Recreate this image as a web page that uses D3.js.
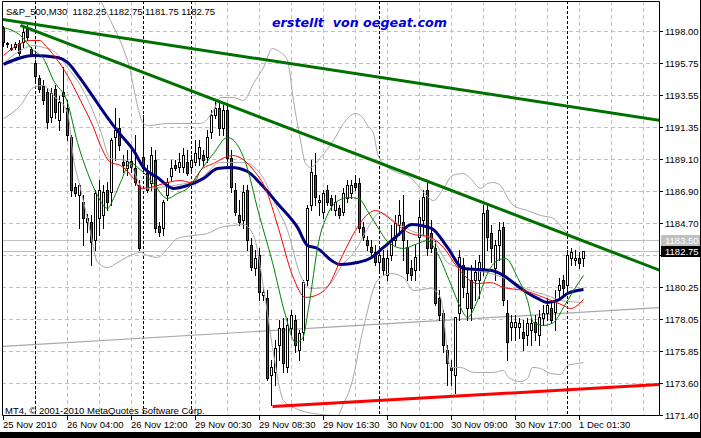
<!DOCTYPE html>
<html><head><meta charset="utf-8">
<script src="https://cdn.jsdelivr.net/npm/d3@7"></script>
<style>
html,body{margin:0;padding:0;background:#fff;}
svg{display:block;}
text{font-family:"Liberation Sans",Arial,sans-serif;}
</style></head><body>
<svg id="c" width="701" height="438"></svg>
<script>
// ---------- DATA ----------
const symbol = "S&P_500,M30";
const barOpen = [1198.21,1197.17,1196.82,1196.89,1197.17,1197.24,1198.14,1196.76,1195.79,1194.75,
1194.19,1193.78,1192.04,1193.98,1191.84,1193.78,1192.67,1190.66,1187.20,1186.64,
1186.16,1184.77,1184.77,1183.52,1185.05,1185.26,1186.99,1186.85,1190.66,1191.28,
1188.93,1188.51,1188.99,1188.51,1187.33,1189.27,1188.16,1187.47,1189.06,1184.49,
1184.36,1186.64,1187.96,1188.72,1188.58,1188.58,1188.93,1188.58,1188.93,1189.20,
1189.41,1189.27,1191.00,1192.18,1192.67,1191.28,1192.53,1189.20,1186.99,1185.26,
1184.91,1186.99,1183.18,1181.58,1182.49,1179.71,1179.51,1174.17,1174.38,1176.25,
1177.43,1174.73,1177.43,1177.98,1175.90,1177.15,1180.75,1185.95,1188.03,1186.16,
1185.46,1186.99,1186.43,1185.60,1185.74,1185.46,1186.43,1186.78,1187.47,1187.47,
1184.43,1183.52,1183.04,1182.69,1182.00,1182.28,1181.10,1182.49,1183.52,1184.56,
1184.77,1183.04,1181.58,1181.45,1183.73,1184.91,1186.99,1184.01,1182.97,1179.51,
1178.47,1175.90,1174.73,1174.17,1178.47,1181.79,1178.81,1180.75,1180.75,1180.75,
1181.58,1185.60,1184.01,1181.58,1183.18,1184.43,1178.47,1177.50,1177.50,1177.50,
1177.15,1176.94,1177.29,1177.84,1176.94,1178.12,1178.47,1178.81,1178.54,1180.06,
1180.75,1180.41,1182.28,1182.14,1182.28,1182.25];
const barHigh = [1198.35,1197.24,1197.10,1197.24,1197.38,1198.21,1198.42,1196.89,1195.99,1194.95,
1194.61,1194.05,1194.05,1194.26,1193.50,1195.51,1193.22,1190.80,1187.47,1187.47,
1186.64,1185.33,1185.26,1186.99,1187.68,1187.33,1187.54,1190.59,1192.67,1191.97,
1189.41,1189.76,1189.76,1190.80,1187.68,1192.18,1188.72,1189.97,1189.76,1184.77,
1186.29,1187.82,1189.06,1189.06,1189.55,1189.90,1189.76,1189.41,1190.45,1190.45,
1189.76,1191.14,1192.53,1193.22,1193.08,1192.88,1192.88,1189.76,1187.47,1186.29,
1187.33,1187.33,1183.66,1182.83,1182.97,1180.20,1180.06,1175.21,1176.60,1177.98,
1178.12,1178.12,1178.67,1178.33,1177.29,1180.75,1185.95,1189.06,1189.55,1186.64,
1186.99,1187.33,1186.64,1186.64,1185.95,1187.13,1187.68,1187.68,1188.03,1187.82,
1184.77,1183.80,1183.52,1183.18,1182.83,1182.83,1182.83,1184.56,1185.26,1186.29,
1186.64,1183.52,1182.14,1183.18,1186.29,1186.99,1187.68,1184.91,1183.52,1180.06,
1178.67,1176.25,1175.21,1176.25,1182.83,1182.28,1181.45,1181.79,1182.14,1182.49,
1185.95,1185.95,1184.56,1183.52,1184.77,1184.77,1179.37,1178.33,1178.33,1178.12,
1177.98,1178.12,1178.12,1178.33,1178.67,1179.02,1179.51,1179.37,1180.06,1180.89,
1181.10,1182.83,1182.97,1182.83,1182.69,1182.75];
const barLow = [1196.96,1196.89,1196.69,1196.76,1196.34,1196.89,1197.38,1196.27,1194.47,1193.78,
1192.94,1191.28,1191.70,1191.97,1191.14,1192.39,1190.45,1186.57,1186.57,1184.36,
1183.18,1184.08,1181.79,1182.83,1183.87,1184.36,1185.60,1185.95,1189.06,1189.76,
1188.23,1188.03,1188.23,1187.33,1182.83,1188.23,1186.85,1186.99,1184.08,1183.80,
1183.87,1186.29,1187.68,1188.37,1188.23,1188.23,1188.03,1188.23,1188.72,1188.72,
1188.72,1188.93,1190.59,1191.97,1190.80,1190.80,1188.72,1186.85,1185.26,1184.56,
1184.36,1182.83,1181.45,1181.10,1179.37,1179.37,1173.82,1172.09,1173.48,1175.21,
1174.38,1174.38,1176.94,1175.77,1175.21,1176.60,1180.41,1185.60,1185.95,1185.26,
1185.05,1185.95,1185.60,1185.26,1185.05,1185.26,1186.16,1186.43,1186.99,1184.08,
1183.52,1182.83,1182.28,1181.79,1181.45,1181.10,1180.75,1182.14,1183.18,1183.87,
1182.14,1180.75,1180.75,1180.75,1181.45,1183.87,1182.49,1182.69,1179.02,1177.98,
1175.77,1173.48,1173.48,1172.92,1177.98,1179.58,1177.98,1177.98,1179.37,1179.51,
1181.10,1182.83,1182.00,1180.75,1182.14,1179.02,1175.21,1176.60,1176.60,1176.74,
1175.90,1176.25,1176.25,1176.60,1176.25,1177.64,1177.98,1177.84,1177.29,1179.51,
1179.71,1180.06,1181.79,1181.79,1181.58,1181.75];
const barClose = [1197.24,1197.10,1196.76,1197.10,1196.48,1197.93,1197.59,1196.34,1194.89,1193.98,
1193.22,1191.70,1193.71,1192.39,1193.08,1193.50,1190.80,1186.99,1186.78,1187.33,
1185.05,1185.05,1183.38,1186.78,1186.99,1186.85,1186.16,1190.45,1191.14,1190.10,
1188.72,1188.99,1188.58,1187.54,1182.97,1188.51,1186.99,1189.41,1184.36,1184.08,
1186.16,1187.54,1188.51,1188.51,1188.93,1189.41,1188.16,1189.06,1189.55,1189.97,
1189.06,1190.66,1192.18,1192.67,1191.28,1192.53,1189.20,1187.20,1185.46,1184.77,
1186.85,1183.52,1181.65,1182.28,1179.92,1179.92,1173.96,1174.73,1176.04,1177.43,
1175.00,1177.64,1178.33,1176.25,1177.08,1180.61,1185.74,1188.23,1186.50,1186.29,
1186.78,1186.16,1185.95,1186.16,1185.26,1186.78,1187.33,1187.33,1187.20,1184.36,
1183.73,1183.18,1182.69,1182.00,1182.49,1181.45,1182.28,1183.52,1184.70,1185.26,
1183.52,1181.24,1181.10,1182.35,1185.12,1186.50,1182.97,1182.97,1179.16,1178.33,
1176.25,1175.00,1174.52,1178.19,1182.35,1180.27,1179.85,1178.81,1181.31,1182.00,
1185.39,1183.73,1182.97,1183.18,1184.22,1179.37,1176.46,1177.84,1177.84,1177.78,
1176.74,1177.78,1177.78,1177.15,1178.19,1178.47,1179.02,1177.98,1179.37,1180.41,
1180.20,1182.49,1182.69,1182.28,1181.93,1182.75];

// indicator lines: [bar index, price]
const maNavy = [[0,1195.72],[7.5,1196.34],[13.5,1196.20],[16,1195.86],[19,1194.82],[22.5,1193.43],[26,1192.04],[29,1190.94],[32.5,1189.76],[35,1188.58],[38.5,1187.89],[42.5,1187.13],[46,1187.33],[50,1187.82],[53.5,1188.51],[57,1188.58],[61,1188.30],[64,1187.54],[68.5,1186.09],[73.5,1184.43],[76,1183.18],[78.5,1182.97],[82,1182.14],[84,1181.86],[88.5,1182.00],[92,1182.35],[95,1183.04],[98.5,1183.87],[102,1184.63],[107,1184.36],[111,1183.04],[115,1181.58],[122,1181.45],[125,1181.10],[129,1180.27],[133.5,1179.51],[136,1179.23],[138.5,1179.37],[141,1179.85],[145,1180.13]];
const maRed = [[0,1196.34],[4.25,1197.17],[6.75,1197.38],[9.25,1197.38],[10,1197.17],[16,1194.95],[19.25,1193.22],[22.5,1191.35],[24.25,1190.10],[26.75,1188.93],[29.25,1188.72],[32.5,1187.82],[34.25,1187.13],[36.75,1187.20],[41,1187.54],[44.25,1187.68],[46.75,1187.54],[48,1187.68],[49.25,1188.37],[52.5,1188.86],[57.25,1189.41],[63,1188.23],[65.5,1187.13],[68.75,1184.36],[72.25,1181.10],[75.5,1179.58],[78,1179.71],[81.25,1180.41],[84.75,1182.49],[88,1184.22],[91.25,1185.39],[93,1185.60],[95.5,1185.26],[98,1184.70],[101.75,1184.01],[106.75,1183.73],[110,1183.04],[113.5,1181.65],[118.5,1180.54],[121.75,1180.61],[125,1180.27],[130,1180.06],[135,1179.58],[140,1179.02],[141.75,1178.81],[145,1179.44]];
const maGreen = [[0,1198.28],[4.25,1197.72],[7.5,1196.69],[10,1196.13],[12.5,1194.61],[16,1193.08],[18.5,1190.31],[21,1188.23],[23.5,1186.64],[26,1185.74],[27.5,1186.43],[29.25,1187.54],[31.75,1188.93],[33.5,1188.58],[35,1188.23],[37.5,1187.47],[41,1186.43],[43.5,1186.78],[46,1187.13],[49.25,1188.37],[52.5,1189.55],[56,1190.66],[60.5,1188.93],[63.75,1185.46],[67.25,1182.00],[70.5,1178.33],[73,1176.46],[74.75,1176.74],[76.25,1178.81],[78.75,1183.38],[81.25,1185.46],[83.75,1186.29],[86.25,1186.50],[88.75,1186.43],[91.25,1185.46],[93.75,1184.36],[96.25,1183.38],[100,1182.97],[103.5,1183.31],[106,1183.52],[108.5,1182.62],[111.75,1180.54],[114.25,1178.88],[116,1178.19],[118.5,1179.37],[121,1181.24],[123.5,1182.14],[125.5,1182.28],[128.5,1180.96],[131,1179.37],[132.5,1177.84],[135,1177.64],[137.5,1177.84],[140,1178.88],[142.5,1180.06],[145,1181.10]];
const bandUpper = [[22.5,1201.19],[24.25,1200.15],[26.75,1198.76],[31,1195.99],[35,1191.63],[36.25,1191.49],[41,1191.63],[49.25,1191.63],[52.5,1192.53],[54.25,1193.43],[57.5,1193.43],[60,1193.22],[62.5,1194.40],[65,1195.51],[67.25,1196.82],[69.25,1196.55],[71,1195.99],[72.5,1193.22],[74.25,1190.45],[75.5,1188.86],[76.75,1188.58],[79.25,1189.27],[82.5,1190.45],[85,1191.63],[88,1192.32],[89.75,1192.04],[91,1191.49],[92.5,1190.94],[93.5,1189.55],[95,1188.86],[98.5,1188.23],[101.75,1187.89],[105,1186.85],[107.5,1186.29],[110,1187.13],[112.25,1188.03],[115,1188.16],[116.75,1187.82],[119.25,1187.13],[121,1187.47],[122.5,1187.54],[124.25,1187.33],[126,1186.50],[127.5,1185.95],[131,1185.60],[134.25,1185.26],[137.5,1185.05],[139.25,1184.56],[141,1184.01],[143.5,1183.73],[145,1183.52]];
const bandMid = [[0,1195.79],[4.25,1196.69],[7.5,1197.03],[10,1196.89],[13,1196.55],[16,1195.51],[19.25,1194.26],[21.75,1192.88],[24.25,1191.14],[26.75,1189.20],[31,1189.06],[35,1187.13],[41,1187.27],[49.25,1187.82],[54.25,1188.93],[60,1188.93],[65,1187.82],[67.5,1186.29],[71,1184.22],[74.25,1181.10],[76.75,1180.20],[80.5,1180.27],[85,1181.93],[88,1182.83],[91,1184.36],[94.25,1185.46],[98.5,1184.70],[101.75,1184.22],[107.5,1183.52],[111,1182.00],[114.25,1181.65],[121.75,1181.24],[126.75,1180.75],[131.75,1180.06],[136,1179.71],[139.25,1179.37],[145,1179.23]];
const bandLower = [[0,1191.97],[4.25,1192.88],[7.5,1194.12],[10,1194.26],[12.5,1193.57],[16,1192.39],[17.5,1189.20],[19.25,1187.13],[21.75,1184.08],[23.5,1182.00],[26,1181.65],[28.5,1182.00],[31.75,1182.49],[34.25,1182.69],[36,1182.49],[38.5,1182.35],[41,1182.97],[43.5,1183.66],[47.5,1183.87],[51,1184.01],[54.25,1184.43],[57.5,1184.56],[60,1184.63],[62.5,1183.87],[65.5,1179.37],[67.5,1175.70],[70,1172.44],[73,1171.89],[77.5,1171.54],[83.5,1171.40],[85,1172.23],[86.75,1173.34],[90,1177.50],[93.5,1180.75],[96.75,1181.24],[100,1180.96],[102.5,1180.06],[106.75,1180.20],[109.25,1179.58],[111.75,1174.73],[114.25,1174.73],[117.5,1174.38],[122.5,1174.38],[125,1174.52],[126.25,1174.03],[129.25,1173.75],[131,1173.96],[132.25,1174.73],[134.25,1174.66],[136.75,1174.31],[139.25,1174.24],[141,1174.87],[143.5,1175.00],[145,1175.07]];

// trend line objects: [bar index, price] pairs
const trendGreenUpper = [[-0.25,1198.83],[164.25,1191.84]];
const trendGreenLower = [[4.25,1198.42],[164.25,1181.44]];
const trendRed = [[67.25,1172.02],[164.25,1173.55]];
const trendGrey = [[-0.25,1176.18],[164.25,1178.88]];

const askPrice = 1183.50;
const yTickValues = [1198.00,1195.75,1193.55,1191.35,1189.10,1186.90,1184.70,1182.50,1180.25,1178.05,1175.85,1173.60,1171.40];
const yHiddenLabel = 1182.50; // covered by the bid price box in the reference
const xTickIndex = [0,16,32,48,64,80,96,112,128,144];
const xTickLabels = ["25 Nov 2010","26 Nov 04:00","26 Nov 12:00","29 Nov 00:30","29 Nov 08:30","29 Nov 16:30","30 Nov 01:00","30 Nov 09:00","30 Nov 17:00","1 Dec 01:30"];
const gridIndex = [8,16,24,32,48,56,64,72,80,88,96,104,112,120,128,136,144,152,160];
const daySeparatorIndex = [8,35,47,94,141];
const watermark = "erstellt  von oegeat.com";
const copyright = "MT4, \u00A9 2001-2010 MetaQuotes Software Corp.";

// ---------- DRAW ----------
const svg = d3.select("#c");
const x = d3.scaleLinear().domain([0,145]).range([3,583]);
const y = d3.scaleLinear().domain([1171.40,1198.00]).range([415,31]);
const L = 2, R = 659, T = 1, B = 415;
const px = v => Math.round(x(v));
const py = v => Math.round(y(v));

svg.append("rect").attr("width",701).attr("height",438).attr("fill","#fff");
svg.append("defs").append("clipPath").attr("id","plot")
  .append("rect").attr("x",L+1).attr("y",T+1).attr("width",R-L-1).attr("height",B-T-1);
const g = svg.append("g").attr("clip-path","url(#plot)");

// grid
g.selectAll(".hg").data(yTickValues).join("line")
  .attr("x1",L).attr("x2",R).attr("y1",d=>py(d)+0.5).attr("y2",d=>py(d)+0.5)
  .attr("stroke","#c0c0c0").attr("stroke-dasharray","4,3");
g.selectAll(".vg").data(gridIndex).join("line")
  .attr("x1",d=>px(d)+0.5).attr("x2",d=>px(d)+0.5).attr("y1",T).attr("y2",B)
  .attr("stroke","#c0c0c0").attr("stroke-dasharray","4,3");
g.selectAll(".sep").data(daySeparatorIndex).join("line")
  .attr("x1",d=>px(d)+0.5).attr("x2",d=>px(d)+0.5).attr("y1",T).attr("y2",B)
  .attr("stroke","#000").attr("stroke-dasharray","3,2");

// bid / ask lines
const lastClose = barClose[barClose.length-1];
[askPrice,lastClose].forEach(p=>{
  g.append("line").attr("x1",L).attr("x2",R).attr("y1",py(p)+0.5).attr("y2",py(p)+0.5)
   .attr("stroke","#c0c0c0");
});

const lineGen = d3.line().x(d=>x(d[0])+0.5).y(d=>y(d[1])+0.5);
const curveGen = d3.line().x(d=>x(d[0])+0.5).y(d=>y(d[1])+0.5).curve(d3.curveMonotoneX);

// grey trend line
g.append("path").attr("d",lineGen(trendGrey)).attr("fill","none").attr("stroke","#a8a8a8").attr("stroke-width",1.2);

// candles
const idx = d3.range(barOpen.length);
const cg = g.append("g");
idx.forEach(i=>{
  const cx = px(i);
  const o = barOpen[i], c = barClose[i];
  const hi = Math.max(barHigh[i],o,c), lo = Math.min(barLow[i],o,c);
  cg.append("line").attr("x1",cx+0.5).attr("x2",cx+0.5).attr("y1",py(hi)).attr("y2",py(lo)+1)
    .attr("stroke","#000");
  const top = py(Math.max(o,c)), bot = py(Math.min(o,c));
  if (bot - top < 1) {
    cg.append("line").attr("x1",cx-1).attr("x2",cx+2).attr("y1",top+0.5).attr("y2",top+0.5).attr("stroke","#000");
  } else {
    cg.append("rect").attr("x",cx-0.5).attr("y",top+0.5).attr("width",2).attr("height",bot-top)
      .attr("fill", c < o ? "#ff0000" : "#ffffff").attr("stroke","#000");
  }
});

// bands
[bandUpper,bandMid,bandLower].forEach(d=>{
  g.append("path").attr("d",curveGen(d)).attr("fill","none").attr("stroke","#a8a8a8").attr("stroke-width",1);
});
// moving averages
g.append("path").attr("d",curveGen(maNavy)).attr("fill","none").attr("stroke","#000080").attr("stroke-width",3);
g.append("path").attr("d",curveGen(maRed)).attr("fill","none").attr("stroke","#ff0000").attr("stroke-width",1);
g.append("path").attr("d",curveGen(maGreen)).attr("fill","none").attr("stroke","#008000").attr("stroke-width",1);

// trend objects
g.append("path").attr("d",lineGen(trendGreenUpper)).attr("fill","none").attr("stroke","#007000").attr("stroke-width",3);
g.append("path").attr("d",lineGen(trendGreenLower)).attr("fill","none").attr("stroke","#007000").attr("stroke-width",3);
g.append("path").attr("d",lineGen(trendRed)).attr("fill","none").attr("stroke","#ff0000").attr("stroke-width",3);

// frame
svg.append("path").attr("d",`M${L+0.5},${B+0.5}V${T+0.5}H${R+0.5}V${B+0.5}H${L+0.5}`)
  .attr("fill","none").attr("stroke","#000");

// y axis labels
svg.selectAll(".yt").data(yTickValues).join("line")
  .attr("x1",R+1).attr("x2",R+4).attr("y1",d=>py(d)+0.5).attr("y2",d=>py(d)+0.5).attr("stroke","#000");
svg.selectAll(".yl").data(yTickValues.filter(v=>v!==yHiddenLabel)).join("text")
  .attr("x",R+6).attr("y",d=>py(d)+4).attr("font-size","9.5px").attr("fill","#000")
  .text(d=>d.toFixed(2));
// ask box
svg.append("rect").attr("x",R+2).attr("y",py(askPrice)-5).attr("width",40).attr("height",11).attr("fill","#c0c0c0");
svg.append("text").attr("x",R+6).attr("y",py(askPrice)+4).attr("font-size","9.5px").attr("fill","#fff").text(askPrice.toFixed(2));
// bid box
svg.append("rect").attr("x",R+2).attr("y",py(lastClose)-5).attr("width",40).attr("height",11).attr("fill","#000");
svg.append("text").attr("x",R+6).attr("y",py(lastClose)+4).attr("font-size","9.5px").attr("fill","#fff").text(lastClose.toFixed(2));

// x axis
svg.selectAll(".xt").data(xTickIndex).join("line")
  .attr("x1",d=>px(d)+0.5).attr("x2",d=>px(d)+0.5).attr("y1",B+1).attr("y2",B+5).attr("stroke","#000");
svg.selectAll(".xl").data(xTickIndex).join("text")
  .attr("x",d=>px(d)).attr("y",428).attr("font-size","9.5px").attr("fill","#000")
  .text((d,k)=>xTickLabels[k]);

// header
const last = barOpen.length-1;
svg.append("text").attr("x",6).attr("y",15).attr("font-size","9.5px").attr("fill","#000")
  .style("white-space","pre")
  .text(`${symbol}  ${barOpen[last].toFixed(2)} ${barHigh[last].toFixed(2)} ${barLow[last].toFixed(2)} ${barClose[last].toFixed(2)}`);
svg.append("text").attr("x",272).attr("y",27).attr("font-size","12.7px").attr("font-weight","bold")
  .attr("font-style","italic").style("font-family","'DejaVu Sans',Verdana,sans-serif").style("white-space","pre")
  .attr("fill","#0000dd").text(watermark);
svg.append("text").attr("x",5).attr("y",414).attr("font-size","9.5px").attr("fill","#000").text(copyright);

// window edges
svg.append("rect").attr("x",0).attr("y",432).attr("width",701).attr("height",6).attr("fill","#000");
svg.append("line").attr("x1",700.5).attr("x2",700.5).attr("y1",0).attr("y2",438).attr("stroke","#000");
</script>
</body></html>
